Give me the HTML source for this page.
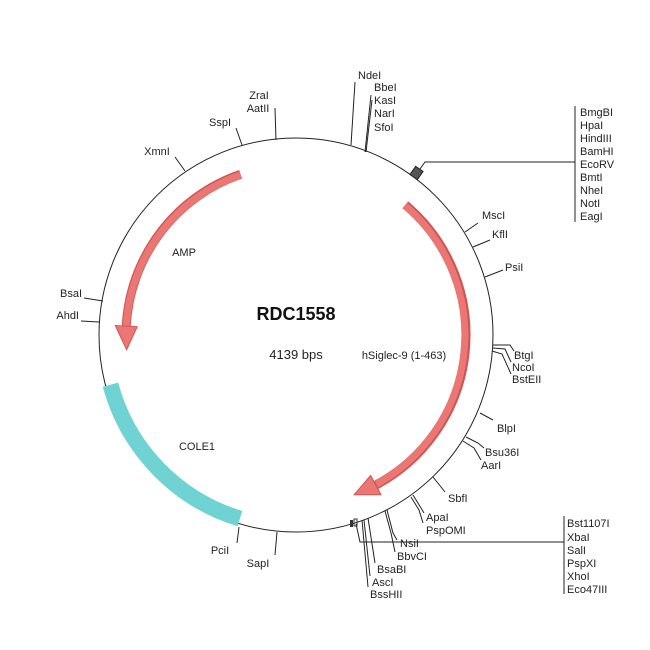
<!DOCTYPE html>
<html><head><meta charset="utf-8"><style>
html,body{margin:0;padding:0;background:#fff;}
svg{display:block;}
text{font-family:"Liberation Sans",Arial,sans-serif;font-size:11px;fill:#222;}
</style></head><body>
<svg width="650" height="650" viewBox="0 0 650 650" xmlns="http://www.w3.org/2000/svg">
<rect width="650" height="650" fill="#fff"/>
<circle cx="296" cy="335" r="197" fill="none" stroke="#222" stroke-width="1"/>

<!-- COLE1 -->
<path d="M110.5,384.7 A192,192 0 0 0 239.9,518.6" fill="none" stroke="#6fd3d3" stroke-width="16"/>

<!-- AMP arrow -->
<path d="M240.6,174.3 A170,170 0 0 0 126.2,326.1" fill="none" stroke="#cf5553" stroke-width="9"/>
<path d="M240.4,174.9 A170,170 0 0 0 126.2,327" fill="none" stroke="#ea7773" stroke-width="7"/>
<polygon points="137.2,326.7 115.3,325.5 126.6,349.8" fill="#ea7773" stroke="#cf5553" stroke-width="1"/>

<!-- hSiglec arrow -->
<path d="M405.3,204.8 A170,170 0 0 1 375.8,485.1" fill="none" stroke="#cf5553" stroke-width="9"/>
<path d="M404.8,205.4 A170,170 0 0 1 376.4,484.2" fill="none" stroke="#ea7773" stroke-width="7"/>
<polygon points="370.6,475.4 381.0,494.8 354.1,494.7" fill="#ea7773" stroke="#cf5553" stroke-width="1"/>

<!-- box -->
<rect x="412" y="168" width="9" height="10" fill="#555" stroke="#222" stroke-width="1" transform="rotate(35 416.5 173)"/>

<g stroke="#222" stroke-width="1" fill="none">
<line x1="185" y1="171" x2="175" y2="157"/>
<line x1="242" y1="145" x2="236" y2="128"/>
<line x1="276" y1="140" x2="275" y2="108"/>
<line x1="351" y1="145" x2="355" y2="82"/>
<line x1="365" y1="152" x2="371" y2="95"/>
<line x1="366" y1="152" x2="372" y2="100"/>
<polyline points="420,169 425,162 575,162"/>
<line x1="575" y1="106" x2="575" y2="222"/>
<line x1="465" y1="232" x2="478" y2="223"/>
<line x1="473" y1="247" x2="490" y2="240"/>
<line x1="485" y1="277" x2="503" y2="270"/>
<polyline points="493,345 510,345 514,351"/>
<polyline points="493,348 505,349 511,362"/>
<polyline points="492,351 502,354 511,374"/>
<line x1="480" y1="413" x2="493" y2="420"/>
<polyline points="466,437 478,443 484,448"/>
<polyline points="463,441 474,448 481,460"/>
<line x1="433" y1="477" x2="445" y2="492"/>
<polyline points="413,495 421,508 424,513"/>
<polyline points="411,497 419,510 423,523"/>
<polyline points="387,510 393,533 397,540"/>
<polyline points="385,511 391,533 395,552"/>
<line x1="368" y1="518" x2="375" y2="563"/>
<line x1="362" y1="520" x2="368" y2="587"/>
<line x1="364" y1="520" x2="370" y2="576"/>
<polyline points="356,524 360,542 564,542"/>
<line x1="564" y1="516" x2="564" y2="594"/>
<line x1="239" y1="527" x2="237" y2="543"/>
<line x1="277" y1="532" x2="275" y2="555"/>
<line x1="103" y1="301" x2="84" y2="298"/>
<line x1="99" y1="322" x2="81" y2="321"/>
</g>
<rect x="350" y="520" width="3" height="7" fill="#333"/>
<rect x="354" y="519" width="3" height="7" fill="none" stroke="#333" stroke-width="1"/>

<text x="296" y="320" text-anchor="middle" style="font-size:18px;font-weight:bold;fill:#111">RDC1558</text>
<text x="296" y="359" text-anchor="middle" style="font-size:13px">4139 bps</text>
<text x="404" y="359" text-anchor="middle">hSiglec-9 (1-463)</text>
<text x="184" y="256" text-anchor="middle">AMP</text>
<text x="197" y="450" text-anchor="middle">COLE1</text>

<text x="157" y="155" text-anchor="middle">XmnI</text>
<text x="220" y="126" text-anchor="middle">SspI</text>
<text x="259" y="99" text-anchor="middle">ZraI</text>
<text x="258" y="112" text-anchor="middle">AatII</text>
<text x="358" y="79">NdeI</text>
<text x="374" y="91">BbeI</text>
<text x="374" y="104">KasI</text>
<text x="374" y="117">NarI</text>
<text x="374" y="131">SfoI</text>
<text x="580" y="116">BmgBI</text>
<text x="580" y="129">HpaI</text>
<text x="580" y="142">HindIII</text>
<text x="580" y="155">BamHI</text>
<text x="580" y="168">EcoRV</text>
<text x="580" y="181">BmtI</text>
<text x="580" y="194">NheI</text>
<text x="580" y="207">NotI</text>
<text x="580" y="220">EagI</text>
<text x="482" y="219">MscI</text>
<text x="492" y="238">KflI</text>
<text x="505" y="271">PsiI</text>
<text x="514" y="359">BtgI</text>
<text x="512" y="371">NcoI</text>
<text x="512" y="383">BstEII</text>
<text x="497" y="432">BlpI</text>
<text x="485" y="456">Bsu36I</text>
<text x="481" y="469">AarI</text>
<text x="448" y="502">SbfI</text>
<text x="426" y="521">ApaI</text>
<text x="426" y="534">PspOMI</text>
<text x="400" y="547">NsiI</text>
<text x="397" y="560">BbvCI</text>
<text x="377" y="573">BsaBI</text>
<text x="372" y="586">AscI</text>
<text x="370" y="598">BssHII</text>
<text x="567" y="527">Bst1107I</text>
<text x="567" y="541">XbaI</text>
<text x="567" y="554">SalI</text>
<text x="567" y="567">PspXI</text>
<text x="567" y="580">XhoI</text>
<text x="567" y="593">Eco47III</text>
<text x="220" y="554" text-anchor="middle">PciI</text>
<text x="258" y="567" text-anchor="middle">SapI</text>
<text x="82" y="297" text-anchor="end">BsaI</text>
<text x="79" y="319" text-anchor="end">AhdI</text>
</svg>
</body></html>
